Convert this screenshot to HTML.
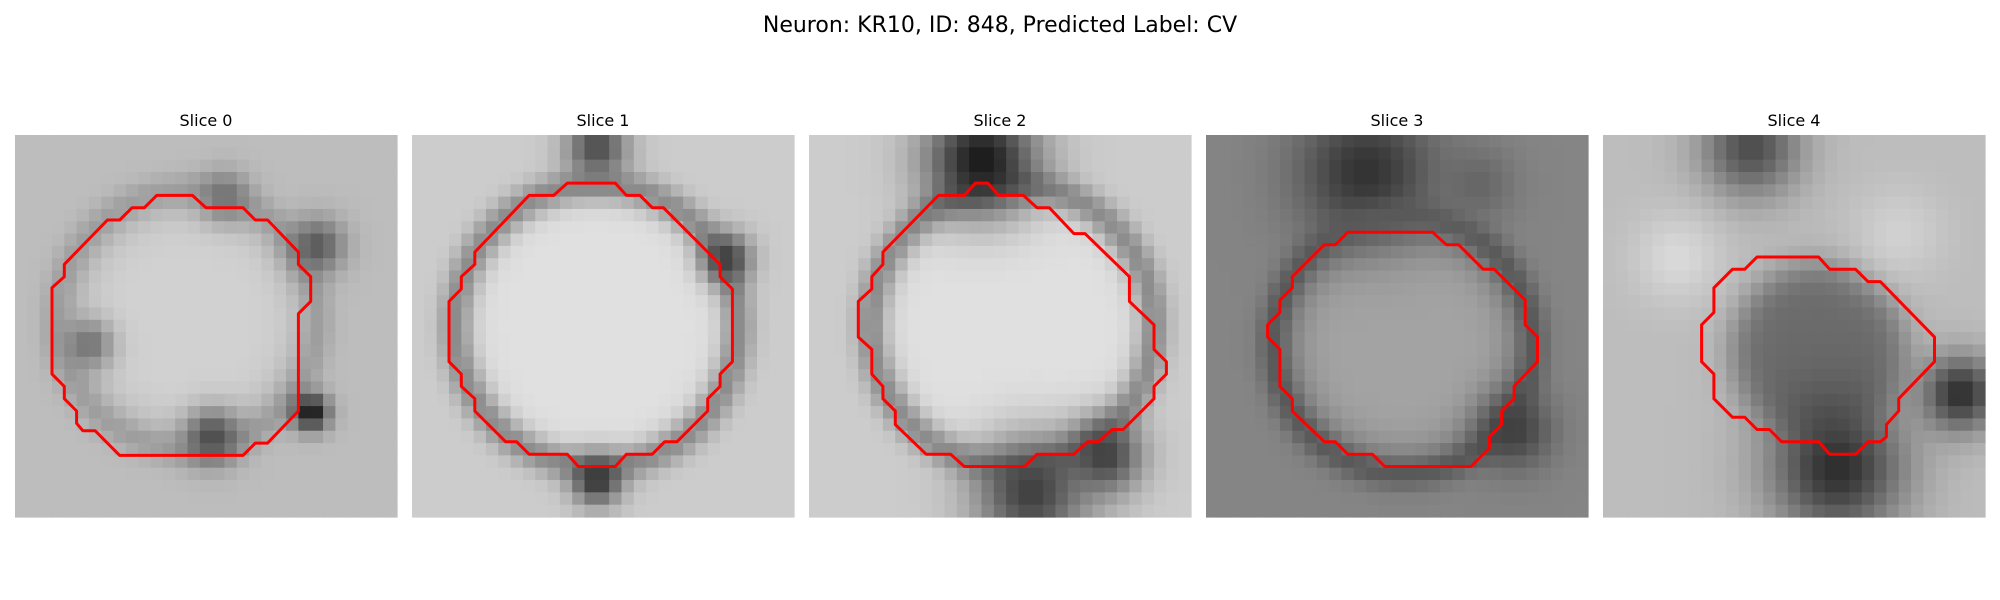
<!DOCTYPE html>
<html><head><meta charset="utf-8"><style>
html,body{margin:0;padding:0;background:#fff;width:2000px;height:600px;overflow:hidden}
svg{display:block}
text{font-family:"DejaVu Sans","Liberation Sans",sans-serif;fill:#000}
</style></head><body>
<svg id="fig" width="2000" height="600" viewBox="0 0 2000 600" xmlns="http://www.w3.org/2000/svg">
<text x="1000" y="32" font-size="22" text-anchor="middle">Neuron: KR10, ID: 848, Predicted Label: CV</text>
</svg>
<script>
// ---- data ----
const sliceTitles = ["Slice 0","Slice 1","Slice 2","Slice 3","Slice 4"];
const gridSize = 31;
// background gray level per slice (0=black,1=white)
const backgroundLevels = [0.74, 0.8, 0.8, 0.52, 0.74];
// blobs per slice: [cx, cy, radius, level, kind] kind: 'b' blob, 'd' disc, 'r' ring
const blobs0 = [[14,15,8,0.82,'d'],[14,15,10.5,0.62,'r'],[24,22.5,1.5,0.08,'b'],[16,24.5,2.2,0.3,'b'],[17,5,2,0.45,'b'],[24.5,9,2.2,0.35,'b'],[6,17,2,0.45,'b']];
const blobs1 = [[15,15.5,10,0.88,'d'],[15,15.5,11.5,0.55,'r'],[15,1,2.5,0.3,'b'],[25.5,10,2,0.25,'b'],[15,28,2,0.2,'b']];
const blobs2 = [[16.5,15.5,10,0.88,'d'],[16.5,15.5,11.5,0.55,'r'],[14,2,4.5,0.1,'b'],[18,29,4.5,0.25,'b'],[24,26,3,0.25,'b']];
const blobs3 = [[16,17,8,0.64,'d'],[13,3,5.5,0.2,'b'],[16,17,10.5,0.35,'r'],[25,24,3,0.25,'b'],[22,4,3,0.4,'b']];
const blobs4 = [[17.5,17.5,7,0.42,'d'],[19,27,5.5,0.18,'b'],[29,21,3,0.18,'b'],[12,1,4,0.3,'b'],[6,10,3.5,0.85,'b'],[24,8,3.5,0.82,'b']];
const contour0 = [[11.5,4.9],[14.4,4.9],[15.5,5.9],[18.5,5.9],[19.5,6.9],[20.5,6.9],[23,9.5],[23,10.5],[24,11.5],[24,13.5],[23,14.5],[23,22.4],[20.5,25],[19.5,25],[18.5,26],[8.5,26],[6.5,24],[5.5,24],[5,23.4],[5,22.4],[4,21.4],[4,20.4],[3,19.4],[3,12.4],[4,11.5],[4,10.5],[7.5,6.9],[8.5,6.9],[9.5,5.9],[10.5,5.9]];
const contour1 = [[12.6,3.9],[16.5,3.9],[17.4,4.9],[18.5,4.9],[19.5,5.9],[20.4,5.9],[25,10.5],[25,11.5],[26,12.5],[26,18.4],[25,19.4],[25,20.4],[24,21.4],[24,22.4],[21.5,24.9],[20.5,24.9],[19.5,25.9],[17.4,25.9],[16.5,26.9],[13.5,26.9],[12.6,25.9],[9.5,25.9],[8.5,24.9],[7.6,24.9],[5.1,22.4],[5.1,21.4],[4,20.4],[4,19.4],[3,18.4],[3,13.5],[4,12.5],[4,11.5],[5.1,10.5],[5.1,9.5],[9.5,4.9],[11.5,4.9]];
const contour2 = [[13.5,3.9],[14.5,3.9],[15.4,4.9],[17.4,4.9],[18.5,5.9],[19.5,5.9],[21.5,8],[22.4,8],[26,11.5],[26,13.5],[28,15.4],[28,17.4],[29,18.4],[29,19.4],[28,20.4],[28,21.4],[25.5,23.9],[24.6,23.9],[23.5,24.9],[22.6,24.9],[21.5,25.9],[18.5,25.9],[17.5,26.9],[12.6,26.9],[11.5,25.9],[9.5,25.9],[7,23.5],[7,22.4],[6,21.4],[6,20.4],[5.1,19.4],[5.1,17.4],[4,16.4],[4,13.5],[5.1,12.5],[5.1,11.5],[6,10.5],[6,9.5],[10.5,4.9],[12.6,4.9]];
const contour3 = [[11.5,7.9],[18.4,7.9],[19.5,8.9],[20.5,8.9],[22.5,10.9],[23.4,10.9],[25.9,13.4],[25.9,15.4],[26.9,16.4],[26.9,18.4],[25,20.4],[25,21.4],[24,22.4],[24,23.5],[23,24.5],[23,25.4],[21.5,26.9],[14.5,26.9],[13.5,25.9],[11.5,25.9],[10.5,24.9],[9.6,24.9],[7,22.4],[7,21.4],[6,20.4],[6,17.4],[5,16.4],[5,15.4],[6,14.4],[6,13.4],[7,12.4],[7,11.5],[9.6,8.9],[10.5,8.9]];
const contour4 = [[12.5,9.9],[17.5,9.9],[18.4,10.9],[20.5,10.9],[21.5,11.9],[22.5,11.9],[26.9,16.4],[26.9,18.4],[24,21.4],[24,22.4],[23,23.5],[23,24.5],[22.5,24.9],[21.5,24.9],[20.5,25.9],[18.4,25.9],[17.5,24.9],[14.5,24.9],[13.5,23.9],[12.5,23.9],[11.5,22.9],[10.5,22.9],[9,21.4],[9,19.4],[8,18.4],[8,15.4],[9,14.4],[9,12.4],[10.5,10.9],[11.5,10.9]];
const allBlobs = [blobs0,blobs1,blobs2,blobs3,blobs4];
const allContours = [contour0,contour1,contour2,contour3,contour4];

// ---- layout ----
const panelLeft = [15, 412, 809, 1206, 1603];
const panelTop = 135, panelSize = 382;
const cell = panelSize / gridSize;
const NS = "http://www.w3.org/2000/svg";
const svg = document.getElementById('fig');

function cellValue(blobs, bg, x, y){
  let v = bg;
  for (const [cx,cy,r,lvl,kind] of blobs){
    const d = Math.hypot(x-cx, y-cy);
    let w;
    if (kind==='d') w = 1/(1+Math.exp((d-r)/0.8));
    else if (kind==='r') w = Math.exp(-Math.pow((d-r)/1.3,2));
    else w = Math.exp(-Math.pow(d/r,2));
    v = v + (lvl - v)*w;
  }
  return Math.max(0, Math.min(1, v));
}

for (let p=0; p<5; p++){
  const g = document.createElementNS(NS,'g');
  
  
  svg.appendChild(g);
  const x0 = panelLeft[p];
  const t = document.createElementNS(NS,'text');
  
  
  t.setAttribute('x', x0 + panelSize/2);
  t.setAttribute('y', 126);
  t.setAttribute('font-size', '16');
  t.setAttribute('text-anchor', 'middle');
  t.textContent = sliceTitles[p];
  g.appendChild(t);
  const img = document.createElementNS(NS,'g');
  
  
  g.appendChild(img);
  for (let r=0; r<gridSize; r++){
    for (let c=0; c<gridSize; c++){
      const v = cellValue(allBlobs[p], backgroundLevels[p], c+0.5, r+0.5);
      const gv = Math.round(v*255);
      const rect = document.createElementNS(NS,'rect');
      rect.setAttribute('x', (x0 + c*cell).toFixed(2));
      rect.setAttribute('y', (panelTop + r*cell).toFixed(2));
      rect.setAttribute('width', (cell+0.6).toFixed(2));
      rect.setAttribute('height', (cell+0.6).toFixed(2));
      rect.setAttribute('fill', `rgb(${gv},${gv},${gv})`);
      img.appendChild(rect);
    }
  }
  const pts = allContours[p].map(([cx,cy]) => (x0 + cx*cell).toFixed(1) + ',' + (panelTop + cy*cell).toFixed(1)).join(' ');
  const poly = document.createElementNS(NS,'polygon');
  
  
  poly.setAttribute('points', pts);
  poly.setAttribute('fill', 'none');
  poly.setAttribute('stroke', '#ff0000');
  poly.setAttribute('stroke-width', '3');
  poly.setAttribute('stroke-linejoin', 'round');
  g.appendChild(poly);
}
</script>
</body></html>
